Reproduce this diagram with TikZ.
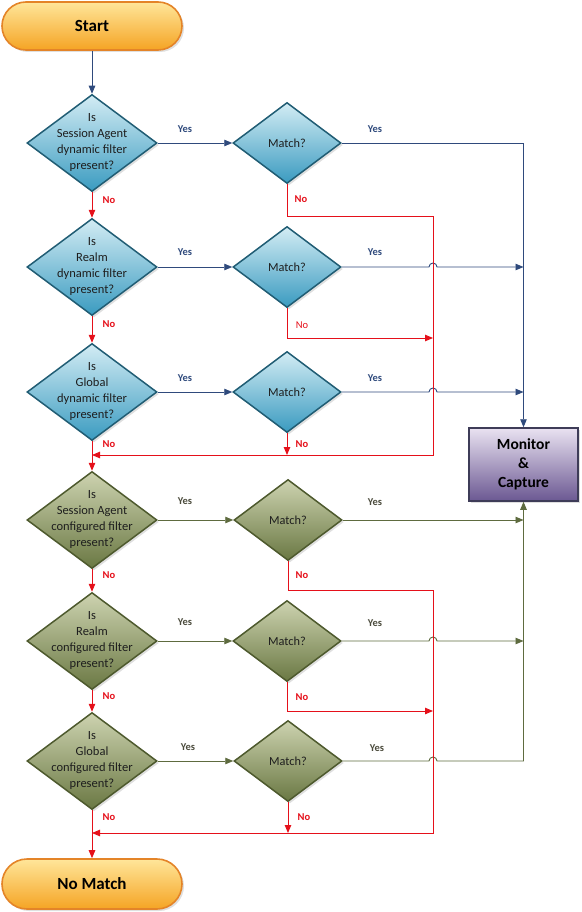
\documentclass[tikz,border=0pt]{standalone}
\usepackage{fontspec}
\setmainfont{Carlito}
\usetikzlibrary{shapes.geometric,arrows.meta,shadows,calc}
\definecolor{blueT}{HTML}{D3ECF4}
\definecolor{blueBot}{HTML}{3A9BC0}
\definecolor{blueB}{HTML}{215D74}
\definecolor{greenT}{HTML}{CDD3B0}
\definecolor{greenBot}{HTML}{6A7843}
\definecolor{greenB}{HTML}{4E5A2E}
\definecolor{pillT}{HTML}{FFE69A}
\definecolor{pillBot}{HTML}{F5A424}
\definecolor{pillB}{HTML}{E48428}
\definecolor{purT}{HTML}{E9E2F1}
\definecolor{purBot}{HTML}{6B5892}
\definecolor{purB}{HTML}{3E3C58}
\definecolor{navy}{HTML}{2F4A7C}
\definecolor{olive}{HTML}{5E6B3F}
\definecolor{noRed}{HTML}{E5101A}
\definecolor{txt}{HTML}{1E1E1E}
\definecolor{gyes}{HTML}{4B4B3C}
\begin{document}
\begin{tikzpicture}[x=1pt,y=-1pt,
  shad/.style={drop shadow={opacity=0.25,shadow xshift=2pt,shadow yshift=-2pt}},
  pill/.style={rectangle,rounded corners=24pt,minimum width=180pt,minimum height=48pt,
    draw=pillB,line width=1.6pt,top color=pillT,bottom color=pillBot,shad,
    font=\bfseries\fontsize{17}{20}\selectfont,text=black},
  bdia/.style={diamond,inner sep=0pt,minimum width=130pt,minimum height=97pt,
    draw=blueB,line width=1.5pt,top color=blueT,bottom color=blueBot,shad},
  gdia/.style={bdia,draw=greenB,top color=greenT,bottom color=greenBot},
  bmat/.style={bdia,minimum width=108pt,minimum height=81pt},
  gmat/.style={gdia,minimum width=108pt,minimum height=81pt},
  dtext/.style={align=center,font=\fontsize{12.5}{16}\selectfont,text=txt},
  mtext/.style={font=\fontsize{12.3}{14}\selectfont,text=txt},
  monbox/.style={rectangle,minimum width=109pt,minimum height=73pt,draw=purB,line width=1.5pt,
    top color=purT,bottom color=purBot,shad,align=center,
    font=\bfseries\fontsize{15.5}{19}\selectfont,text=black},
  tip/.style={-{Triangle[length=8pt,width=6.5pt]}},
  bl/.style={draw=navy,line width=0.9pt},
  gr/.style={draw=olive,line width=0.9pt},
  rd/.style={draw=noRed,line width=0.9pt},
  ylab/.style={font=\bfseries\fontsize{10.5}{12}\selectfont,text=navy},
  gylab/.style={font=\bfseries\fontsize{10.5}{12}\selectfont,text=gyes},
  nlab/.style={font=\bfseries\fontsize{10.5}{12}\selectfont,text=noRed}
]
\useasboundingbox (0,0) rectangle (581,912);
% nodes
\node[pill] (start) at (92,26) {Start};
\node[pill,minimum height=50pt,rounded corners=25pt] (nomatch) at (92,884) {No Match};
\node[monbox] (mon) at (523.5,464.5) {Monitor\\\&\\Capture};

\node[bdia] (d1) at (92,143) {};
\node[bdia] (d2) at (92,267) {};
\node[bdia] (d3) at (92,392) {};
\node[gdia] (d4) at (92,520) {};
\node[gdia] (d5) at (92,641) {};
\node[gdia] (d6) at (92,761) {};
\node[dtext] (t1) at (92,142) {Is\\Session Agent\\dynamic filter\\present?};
\node[dtext] (t2) at (92,266) {Is\\Realm\\dynamic filter\\present?};
\node[dtext] (t3) at (92,391) {Is\\Global\\dynamic filter\\present?};
\node[dtext] (t4) at (92,519) {Is\\Session Agent\\configured filter\\present?};
\node[dtext] (t5) at (92,640) {Is\\Realm\\configured filter\\present?};
\node[dtext] (t6) at (92,760) {Is\\Global\\configured filter\\present?};

\node[bmat] (m1) at (287,143) {};
\node[bmat] (m2) at (287,267) {};
\node[bmat] (m3) at (287,392) {};
\node[gmat] (m4) at (288,520) {};
\node[gmat] (m5) at (287,641) {};
\node[gmat] (m6) at (288,761) {};
\foreach \i in {1,...,6} {\node[mtext] (mt\i) at (m\i) {Match?};}

% bus coordinates
\coordinate (bus) at (433,0);
\coordinate (ca) at (433,216);
\coordinate (cb) at (433,455);
\coordinate (r2) at (433,338);
\coordinate (cc) at (433,590);
\coordinate (cd) at (433,833);
\coordinate (r5) at (433,711);

% start
\draw[bl,tip] (start.south) -- (d1.north);
% yes connectors to match
\draw[bl,tip] (d1.east) -- (m1.west);
\draw[bl,tip] (d2.east) -- (m2.west);
\draw[bl,tip] (d3.east) -- (m3.west);
\draw[gr,tip] (d4.east) -- (m4.west);
\draw[gr,tip] (d5.east) -- (m5.west);
\draw[gr,tip] (d6.east) -- (m6.west);
% match yes to monitor
\draw[bl,tip] (m1.east) -| (mon.north);
\draw[bl,tip] (m2.east) -- ($(m2.east -| bus)+(-4,0)$) arc[start angle=180,end angle=360,radius=4] -- (m2.east -| mon.north);
\draw[bl,tip] (m3.east) -- ($(m3.east -| bus)+(-4,0)$) arc[start angle=180,end angle=360,radius=4] -- (m3.east -| mon.north);
\draw[gr,tip] (m4.east) -- (m4.east -| mon.south);
\draw[gr,tip] (m5.east) -- ($(m5.east -| bus)+(-4,0)$) arc[start angle=180,end angle=360,radius=4] -- (m5.east -| mon.south);
\draw[gr,tip] (m6.east) -- ($(m6.east -| bus)+(-4,0)$) arc[start angle=180,end angle=360,radius=4] -- (m6.east -| mon.south) -- (mon.south);
% no connectors
\draw[rd,tip] (d1.south) -- (d2.north);
\draw[rd,tip] (d2.south) -- (d3.north);
\draw[rd,tip] (d3.south) -- (d4.north);
\draw[rd,tip] (d4.south) -- (d5.north);
\draw[rd,tip] (d5.south) -- (d6.north);
\draw[rd,tip] (d6.south) -- (nomatch.north);
\draw[rd,tip] (m1.south) |- (ca) -- (cb) -- (d3.south |- cb);
\draw[rd,tip] (m2.south) |- (r2);
\draw[rd,tip] (m3.south) -- (m3.south |- cb);
\draw[rd,tip] (m4.south) |- (cc) -- (cd) -- (d6.south |- cd);
\draw[rd,tip] (m5.south) |- (r5);
\draw[rd,tip] (m6.south) -- (m6.south |- cd);

% labels
\node[ylab] (y1) at (185,129) {Yes};
\node[ylab] (y2) at (185,252) {Yes};
\node[ylab] (y3) at (185,378) {Yes};
\node[gylab] (y4) at (185,501) {Yes};
\node[gylab] (y5) at (185,622) {Yes};
\node[gylab] (y6) at (188,747) {Yes};
\node[ylab] (ym1) at (375,129) {Yes};
\node[ylab] (ym2) at (375,252) {Yes};
\node[ylab] (ym3) at (375,378) {Yes};
\node[gylab] (ym4) at (375,502) {Yes};
\node[gylab] (ym5) at (375,623) {Yes};
\node[gylab] (ym6) at (377,748) {Yes};
\node[nlab] (n1) at (109,200) {No};
\node[nlab] (n2) at (109,324) {No};
\node[nlab] (n3) at (109,444) {No};
\node[nlab] (n4) at (109,575) {No};
\node[nlab] (n5) at (109,696) {No};
\node[nlab] (n6) at (109,817) {No};
\node[nlab] (nm1) at (301,199) {No};
\node[nlab,font=\fontsize{10.5}{12}\selectfont] (nm2) at (302,325) {No};
\node[nlab] (nm3) at (302,444) {No};
\node[nlab] (nm4) at (302,575) {No};
\node[nlab] (nm5) at (302,697) {No};
\node[nlab] (nm6) at (304,817) {No};
\end{tikzpicture}
\end{document}
